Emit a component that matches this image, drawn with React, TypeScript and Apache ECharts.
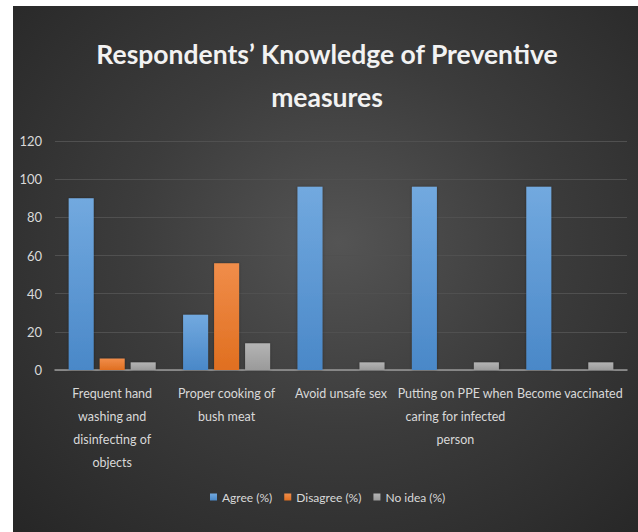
import React, { useEffect, useRef } from "react";
import * as echarts from "echarts";

const categories = [
  "Frequent hand\nwashing and\ndisinfecting of\nobjects",
  "Proper cooking of\nbush meat",
  "Avoid unsafe sex",
  "Putting on PPE when\ncaring for infected\nperson",
  "Become vaccinated",
];
const agree = [90, 29, 96, 96, 96];
const disagree = [6, 56, 0, 0, 0];
const noIdea = [4, 14, 4, 4, 4];
const seriesNames = ["Agree (%)", "Disagree (%)", "No idea (%)"];
const yTicks = { min: 0, max: 120, interval: 20 };

const FONT = "Lato, 'Open Sans', sans-serif";
const TEXT = "#d9d9d9";

const grad = (top: string, bottom: string) =>
  new echarts.graphic.LinearGradient(0, 0, 0, 1, [
    { offset: 0, color: top },
    { offset: 1, color: bottom },
  ]);

export default function App() {
  const ref = useRef<HTMLDivElement>(null);

  useEffect(() => {
    if (!ref.current) return;
    const chart = echarts.init(ref.current, undefined, { renderer: "svg" });
    const barStyle = (top: string, bottom: string) => ({
      color: grad(top, bottom),
      shadowColor: "rgba(0,0,0,0.35)",
      shadowBlur: 3,
    });
    chart.setOption({
      animation: false,
      backgroundColor: "transparent",
      textStyle: { fontFamily: FONT },
      title: {
        text: "Respondents’ Knowledge of Preventive\nmeasures",
        left: 322,
        textAlign: "center",
        top: 27,
        textStyle: {
          color: "#f2f2f2",
          fontFamily: FONT,
          fontSize: 26.5,
          fontWeight: "bold",
          lineHeight: 43,
        },
      },
      legend: {
        bottom: 24,
        left: 205,
        itemWidth: 7,
        itemHeight: 7,
        itemGap: 12,
        icon: "rect",
        textStyle: { color: TEXT, fontSize: 12, fontFamily: FONT },
        data: seriesNames,
      },
      grid: { left: 55, right: 11, top: 141, bottom: 162, containLabel: false },
      xAxis: {
        type: "category",
        data: categories,
        axisTick: { show: false },
        axisLine: { lineStyle: { color: "#9a9a9a", width: 1.5 } },
        axisLabel: {
          color: TEXT,
          fontSize: 12.5,
          lineHeight: 23,
          fontFamily: FONT,
          interval: 0,
          margin: 12,
        },
      },
      yAxis: {
        type: "value",
        ...yTicks,
        axisLine: { show: false },
        axisTick: { show: false },
        splitLine: { lineStyle: { color: "#505050", width: 1 } },
        axisLabel: { color: TEXT, fontSize: 13, fontFamily: FONT, margin: 13 },
      },
      series: [
        {
          name: seriesNames[0],
          type: "bar",
          data: agree,
          barWidth: 25,
          barGap: "24%",
          itemStyle: barStyle("#72a9df", "#4a88c8"),
        },
        {
          name: seriesNames[1],
          type: "bar",
          data: disagree,
          barWidth: 25,
          barGap: "24%",
          itemStyle: barStyle("#f08d4a", "#e06f20"),
        },
        {
          name: seriesNames[2],
          type: "bar",
          data: noIdea,
          barWidth: 25,
          barGap: "24%",
          itemStyle: barStyle("#b4b4b4", "#9a9a9a"),
        },
      ],
      color: ["#5b9bd5", "#ed7d31", "#a5a5a5"],
    });
    return () => chart.dispose();
  }, []);

  return (
    <div
      style={{
        position: "fixed",
        left: 0,
        top: 0,
        width: 638,
        height: 532,
        background: "#ffffff",
      }}
    >
      <div
        style={{
          position: "absolute",
          left: 13,
          top: 6,
          width: 625,
          height: 526,
          background:
            "radial-gradient(ellipse at 52% 45%, #545454 0%, #3c3c3c 45%, #262626 100%)",
        }}
      />
      <div
        ref={ref}
        style={{ position: "absolute", left: 0, top: 0, width: 638, height: 532 }}
      />
    </div>
  );
}
